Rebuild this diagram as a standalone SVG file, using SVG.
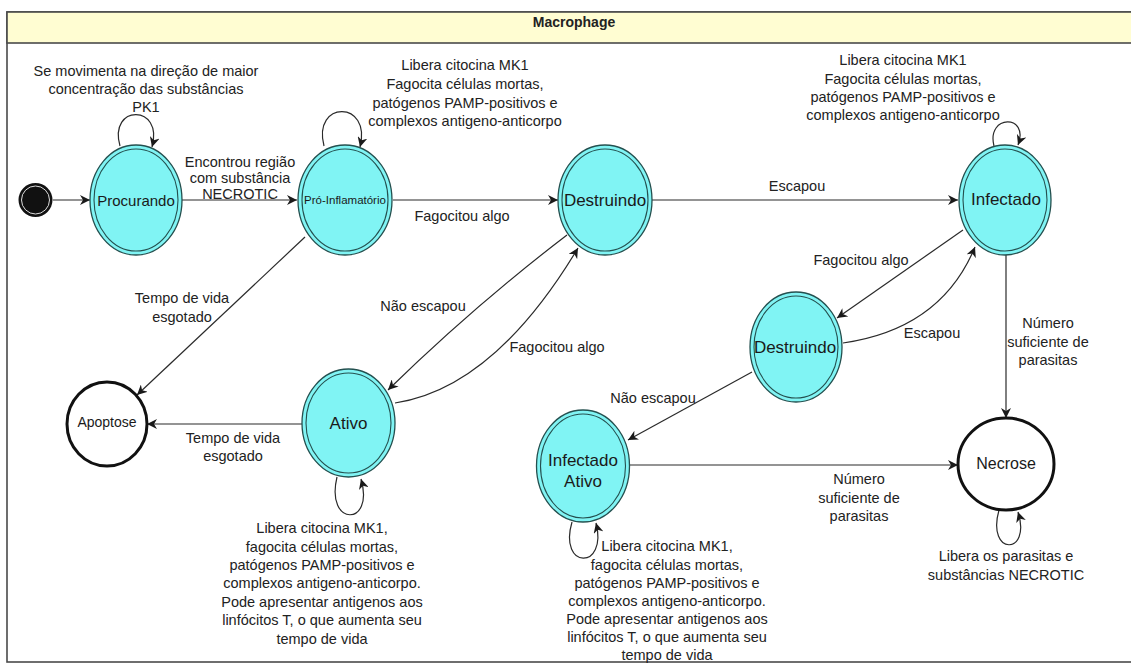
<svg xmlns="http://www.w3.org/2000/svg" width="1131" height="664" viewBox="0 0 1131 664">
<style>
.lbl{font-family:"Liberation Sans",Arial,sans-serif;font-size:14.5px;fill:#222;text-anchor:middle}
.nl{font-family:"Liberation Sans",Arial,sans-serif;font-size:17px;fill:#1a1a1a;text-anchor:middle}
.st{fill:#80f4f4;stroke:#24504f;stroke-width:1.3}
.in{fill:none;stroke:#24504f;stroke-width:1.1}
.fin{fill:#fff;stroke:#111;stroke-width:3}
</style>
<defs>
<marker id="arr" markerUnits="userSpaceOnUse" markerWidth="12" markerHeight="10" refX="10" refY="5" orient="auto">
<path d="M0,0 L10,5 L0,10 L3,5 Z" fill="#1a1a1a"/>
</marker>
</defs>
<rect width="1131" height="664" fill="#fff"/>
<g id="frame">
<rect x="7" y="12" width="1130" height="650" fill="#fff" stroke="#4a4a4a" stroke-width="1.6"/>
<rect x="7" y="12" width="1130" height="31" fill="#fffdd2" stroke="#4a4a4a" stroke-width="1.6"/>
<text x="574" y="27" style="font-family:'Liberation Sans',Arial,sans-serif;font-size:14px;font-weight:bold;fill:#222;text-anchor:middle">Macrophage</text>
</g>
<g id="connectors" fill="none" stroke="#2a2a2a" stroke-width="1.2" marker-end="url(#arr)">
<path d="M53,200 L90,200"/>
<path d="M182,200 L297,200"/>
<path d="M393,200 L558,200"/>
<path d="M652,200 L958,200"/>
<path d="M305,237 L137,395"/>
<path d="M302,424 L147,424"/>
<path d="M567,235 Q474,306 388,390"/>
<path d="M395,403 Q494,388 578,248"/>
<path d="M963,230 L837,318"/>
<path d="M843,343 Q941,329 975,247"/>
<path d="M752,372 L628,440"/>
<path d="M1006,254 L1006,418"/>
<path d="M630,465 L958,465"/>
<path d="M120,146 C108,104 164,104 152,147"/>
<path d="M324,146 C312,100 372,100 360,147"/>
<path d="M994,146 C986,114 1030,114 1018,145"/>
<path d="M337,477 C325,527 375,527 361,479"/>
<path d="M572,522 C558,570 608,570 596,523"/>
<path d="M999,510 C986,556 1032,556 1018,512"/>
</g>
<g id="edge-labels">
<text class="lbl" x="146" y="76">Se movimenta na direção de maior</text>
<text class="lbl" x="146" y="94">concentração das substâncias</text>
<text class="lbl" x="146" y="112">PK1</text>
<text class="lbl" x="240" y="167">Encontrou região</text>
<text class="lbl" x="240" y="183">com substância</text>
<text class="lbl" x="240" y="199">NECROTIC</text>
<text class="lbl" x="465" y="70">Libera citocina MK1</text>
<text class="lbl" x="465" y="89">Fagocita células mortas,</text>
<text class="lbl" x="465" y="108">patógenos PAMP-positivos e</text>
<text class="lbl" x="465" y="126">complexos antigeno-anticorpo</text>
<text class="lbl" x="903" y="65">Libera citocina MK1</text>
<text class="lbl" x="903" y="84">Fagocita células mortas,</text>
<text class="lbl" x="903" y="102">patógenos PAMP-positivos e</text>
<text class="lbl" x="903" y="120">complexos antigeno-anticorpo</text>
<text class="lbl" x="462" y="221">Fagocitou algo</text>
<text class="lbl" x="797" y="191">Escapou</text>
<text class="lbl" x="182" y="303">Tempo de vida</text>
<text class="lbl" x="182" y="322">esgotado</text>
<text class="lbl" x="233" y="443">Tempo de vida</text>
<text class="lbl" x="233" y="461">esgotado</text>
<text class="lbl" x="423" y="311">Não escapou</text>
<text class="lbl" x="557" y="352">Fagocitou algo</text>
<text class="lbl" x="861" y="265">Fagocitou algo</text>
<text class="lbl" x="932" y="338">Escapou</text>
<text class="lbl" x="653" y="403">Não escapou</text>
<text class="lbl" x="1048" y="328">Número</text>
<text class="lbl" x="1048" y="347">suficiente de</text>
<text class="lbl" x="1048" y="365">parasitas</text>
<text class="lbl" x="859" y="484">Número</text>
<text class="lbl" x="859" y="503">suficiente de</text>
<text class="lbl" x="859" y="521">parasitas</text>
<text class="lbl" x="322" y="533">Libera citocina MK1,</text>
<text class="lbl" x="322" y="552">fagocita células mortas,</text>
<text class="lbl" x="322" y="570">patógenos PAMP-positivos e</text>
<text class="lbl" x="322" y="588">complexos antigeno-anticorpo.</text>
<text class="lbl" x="322" y="607">Pode apresentar antigenos aos</text>
<text class="lbl" x="322" y="625">linfócitos T, o que aumenta seu</text>
<text class="lbl" x="322" y="644">tempo de vida</text>
<text class="lbl" x="667" y="551">Libera citocina MK1,</text>
<text class="lbl" x="667" y="570">fagocita células mortas,</text>
<text class="lbl" x="667" y="588">patógenos PAMP-positivos e</text>
<text class="lbl" x="667" y="606">complexos antigeno-anticorpo.</text>
<text class="lbl" x="667" y="624">Pode apresentar antigenos aos</text>
<text class="lbl" x="667" y="642">linfócitos T, o que aumenta seu</text>
<text class="lbl" x="667" y="660">tempo de vida</text>
<text class="lbl" x="1006" y="561">Libera os parasitas e</text>
<text class="lbl" x="1006" y="580">substâncias NECROTIC</text>
</g>
<g id="initial">
<circle cx="35.5" cy="200" r="17" fill="#111"/>
<circle cx="35.5" cy="200" r="14" fill="#111" stroke="#ddd" stroke-width="1"/>
</g>
<g id="procurando">
<ellipse class="st" cx="136" cy="200" rx="46" ry="55"/>
<ellipse class="in" cx="136" cy="200" rx="42" ry="51"/>
<text class="nl" x="136" y="205.5" style="font-size:15px">Procurando</text>
</g>
<g id="pro-inflamatorio">
<ellipse class="st" cx="345" cy="200" rx="47" ry="55"/>
<ellipse class="in" cx="345" cy="200" rx="43" ry="51"/>
<text class="nl" x="345" y="204" style="font-size:11.5px">Pró-Inflamatório</text>
</g>
<g id="destruindo1">
<ellipse class="st" cx="605" cy="200" rx="47" ry="55"/>
<ellipse class="in" cx="605" cy="200" rx="43" ry="51"/>
<text class="nl" x="605" y="206">Destruindo</text>
</g>
<g id="infectado">
<ellipse class="st" cx="1005" cy="200" rx="46" ry="55"/>
<ellipse class="in" cx="1005" cy="200" rx="42" ry="51"/>
<text class="nl" x="1006" y="205">Infectado</text>
</g>
<g id="destruindo2">
<ellipse class="st" cx="796" cy="347" rx="46" ry="55"/>
<ellipse class="in" cx="796" cy="347" rx="42" ry="51"/>
<text class="nl" x="795" y="353">Destruindo</text>
</g>
<g id="ativo">
<ellipse class="st" cx="348.5" cy="423" rx="46.5" ry="54"/>
<ellipse class="in" cx="348.5" cy="423" rx="42.5" ry="50"/>
<text class="nl" x="348.5" y="429">Ativo</text>
</g>
<g id="apoptose">
<ellipse class="fin" cx="107" cy="424" rx="40" ry="42"/>
<text class="nl" x="107" y="427" style="font-size:14px">Apoptose</text>
</g>
<g id="infectado-ativo">
<ellipse class="st" cx="583" cy="466" rx="46.5" ry="56"/>
<ellipse class="in" cx="583" cy="466" rx="42.5" ry="52"/>
<text class="nl" x="583" y="466">Infectado</text>
<text class="nl" x="583" y="487">Ativo</text>
</g>
<g id="necrose">
<ellipse class="fin" cx="1006" cy="464" rx="48" ry="46"/>
<text class="nl" x="1006" y="469" style="font-size:16px">Necrose</text>
</g>
</svg>
